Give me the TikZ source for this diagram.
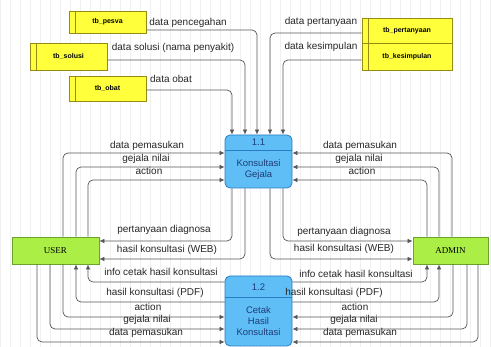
\documentclass[tikz,border=0pt]{standalone}
\usepackage{fontspec}
\setmainfont{Liberation Sans}
\newfontfamily\entfont{Liberation Serif}
\usetikzlibrary{arrows.meta}

\definecolor{storefill}{RGB}{255,255,60}
\definecolor{storeline}{RGB}{150,140,20}
\definecolor{procfill}{RGB}{95,190,245}
\definecolor{procline}{RGB}{40,125,195}
\definecolor{proctext}{RGB}{30,60,120}
\definecolor{entfill}{RGB}{170,238,70}
\definecolor{entline}{RGB}{105,165,40}
\definecolor{flowline}{RGB}{85,85,85}

\begin{document}
\begin{tikzpicture}[x=1pt,y=-1pt,
    store/.style={draw=storeline, fill=storefill, line width=0.8pt, inner sep=0,
      font=\fontsize{7}{8}\selectfont\bfseries},
    proc/.style={draw=procline, fill=procfill, rounded corners=5pt, line width=0.8pt,
      minimum width=67pt, inner sep=0},
    proclbl/.style={inner sep=0, align=center, text=proctext,
      font=\fontsize{9.5}{11}\selectfont},
    entity/.style={draw=entline, fill=entfill, line width=0.8pt, minimum height=27pt,
      inner sep=0, font=\entfont\fontsize{9}{10}\selectfont},
    flow/.style={draw=flowline, line width=0.7pt, rounded corners=5pt,
      -{Latex[length=5pt,width=4.5pt]}},
    lbl/.style={anchor=base, inner sep=0, text=black!85, font=\fontsize{10}{11}\selectfont}]
    \useasboundingbox (0,0) rectangle (491,347);
    \draw[black!6, step=10] (0,0) grid (491,347);

    \node[store, minimum width=77pt, minimum height=22pt] (pesva) at (107.5,22) {tb\_pesva};
    \node[store, minimum width=77pt, minimum height=27pt] (solusi) at (68.5,56.5) {tb\_solusi};
    \node[store, minimum width=77pt, minimum height=25pt] (obat) at (107.5,88.5) {tb\_obat};
    \node[store, minimum width=90pt, minimum height=25pt] (pert) at (407,30.5) {tb\_pertanyaan};
    \node[store, minimum width=90pt, minimum height=27pt] (kesim) at (407,56.5) {tb\_kesimpulan};
    \foreach \s in {pesva,solusi,obat,pert,kesim}
        \draw[storeline, line width=0.8pt] ([xshift=7pt]\s.north west) -- ([xshift=7pt]\s.south west);

    \node[proc, minimum height=53pt] (p11) at (258.5,161.5) {};
    \draw[procline, line width=0.8pt] (p11.west |- 0,150) -- (p11.east |- 0,150);
    \node[proclbl] (p11num) at (258.5,142.5) {1.1};
    \node[proclbl] (p11txt) at (258.5,170) {Konsultasi\\Gejala};

    \node[proc, minimum height=70pt] (p12) at (258.5,311) {};
    \draw[procline, line width=0.8pt] (p12.west |- 0,297) -- (p12.east |- 0,297);
    \node[proclbl] (p12num) at (258.5,287) {1.2};
    \node[proclbl] (p12txt) at (258.5,321) {Cetak\\Hasil\\Konsultasi};

    \node[entity, minimum width=87pt] (user) at (55.5,250.5) {USER};
    \node[entity, minimum width=75pt] (admin) at (450.5,250.5) {ADMIN};

    \draw[flow] (pesva.east |- 0,30) -| (p11.north -| 257,0);
    \draw[flow] (solusi.east |- 0,60) -| (p11.north -| 245,0);
    \draw[flow] (obat.east |- 0,90) -| (p11.north -| 232,0);
    \draw[flow] (pert.west |- 0,33) -| (p11.north -| 270,0);
    \draw[flow] (kesim.west |- 0,60) -| (p11.north -| 283,0);
    \node[lbl] (lpesva) at (188,26) {data pencegahan};
    \node[lbl] (lsolusi) at (173,51) {data solusi (nama penyakit)};
    \node[lbl] (lobat) at (171,83) {data obat};
    \node[lbl] (lpert) at (321,25) {data pertanyaan};
    \node[lbl] (lkesim) at (321,50) {data kesimpulan};

    \draw[flow] (user.north -| 63,0) |- (p11.west |- 0,153);
    \draw[flow] (user.north -| 76,0) |- (p11.west |- 0,167);
    \draw[flow] (user.north -| 88,0) |- (p11.west |- 0,180);
    \node[lbl] (lu1) at (147,149) {data pemasukan};
    \node[lbl] (lu2) at (146,162) {gejala nilai};
    \node[lbl] (lu3) at (149,175) {action};

    \draw[flow] (admin.north -| 452,0) |- (p11.east |- 0,153);
    \draw[flow] (admin.north -| 439,0) |- (p11.east |- 0,167);
    \draw[flow] (admin.north -| 427,0) |- (p11.east |- 0,180);
    \node[lbl] (la1) at (360,149) {data pemasukan};
    \node[lbl] (la2) at (359,162) {gejala nilai};
    \node[lbl] (la3) at (362,175) {action};

    \draw[flow] (p11.south -| 232,0) |- (user.east |- 0,241);
    \draw[flow] (p11.south -| 245,0) |- (user.east |- 0,259);
    \draw[flow] (p11.south -| 283,0) |- (admin.west |- 0,241);
    \draw[flow] (p11.south -| 270,0) |- (admin.west |- 0,259);
    \node[lbl] (lu4) at (164,233) {pertanyaan diagnosa};
    \node[lbl] (lu5) at (167,253) {hasil konsultasi (WEB)};
    \node[lbl] (la4) at (344,235) {pertanyaan diagnosa};
    \node[lbl] (la5) at (344,252) {hasil konsultasi (WEB)};

    \draw[flow] (p12.west |- 0,282) -| (user.south -| 88,0);
    \draw[flow] (p12.west |- 0,302) -| (user.south -| 76,0);
    \draw[flow] (user.south -| 63,0) |- (p12.west |- 0,317);
    \draw[flow] (user.south -| 50,0) |- (p12.west |- 0,329);
    \draw[flow] (user.south -| 37,0) |- (p12.west |- 0,342);
    \node[lbl] (lu6) at (161,276) {info cetak hasil konsultasi};
    \node[lbl] (lu7) at (155,296) {hasil konsultasi (PDF)};
    \node[lbl] (lu8) at (148,311) {action};
    \node[lbl] (lu9) at (147,323) {gejala nilai};
    \node[lbl] (lu10) at (146,336) {data pemasukan};

    \draw[flow] (p12.east |- 0,282) -| (admin.south -| 427,0);
    \draw[flow] (p12.east |- 0,302) -| (admin.south -| 439,0);
    \draw[flow] (admin.south -| 453,0) |- (p12.east |- 0,317);
    \draw[flow] (admin.south -| 467,0) |- (p12.east |- 0,329);
    \draw[flow] (admin.south -| 478,0) |- (p12.east |- 0,342);
    \node[lbl] (la6) at (356,278) {info cetak hasil konsultasi};
    \node[lbl] (la7) at (334,296) {hasil konsultasi (PDF)};
    \node[lbl] (la8) at (355,311) {action};
    \node[lbl] (la9) at (354,323) {gejala nilai};
    \node[lbl] (la10) at (360,336) {data pemasukan};
\end{tikzpicture}
\end{document}
